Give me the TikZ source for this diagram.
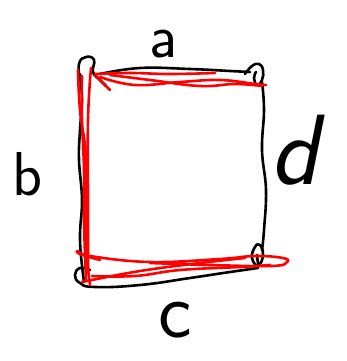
\documentclass[tikz,border=0pt]{standalone}
\begin{document}
\begin{tikzpicture}[x=1pt,y=-1pt,
  ink/.style={black,line width=2.6pt,line cap=round,line join=round},
  redink/.style={red,line width=2.6pt,line cap=round,line join=round},
  hand/.style={font=\sffamily\fontsize{62}{62}\selectfont,inner sep=0pt}]
\useasboundingbox (0,0) rectangle (346,361);
% ---- black square ----
\draw[ink] plot[smooth,tension=0.7] coordinates {(100,74) (140,68) (190,69) (230,71) (250,72)};
\draw[ink] plot[smooth,tension=0.8] coordinates {(80,82) (79,64) (86,57) (94,60) (93,72) (100,80) (106,86)};
\draw[ink] plot[smooth,tension=0.8] coordinates {(245,74) (252,66) (259,64) (263,70) (262,80) (257,85) (254,78) (256,72)};
\draw[ink] plot[smooth,tension=0.7] coordinates {(262,82) (264,110) (262,150) (266,190) (264,230) (262,250)};
\draw[ink] plot[smooth,tension=0.7] coordinates {(80,74) (82,100) (80,130) (79,160) (82,200) (80,240) (84,282)};
\draw[ink] plot[smooth,tension=0.8] coordinates {(90,270) (80,268) (75,275) (80,283) (95,287) (140,285) (190,278) (230,272) (258,268)};
\draw[ink] plot[smooth,tension=0.8] coordinates {(258,268) (252,258) (255,247) (260,245) (263,255) (259,265) (257,255)};
% ---- red strokes ----
\draw[redink] plot[smooth,tension=0.7] coordinates {(82,76) (82,120) (84,170) (84,220) (86,280)};
\draw[redink] plot[smooth,tension=0.7] coordinates {(78,70) (80,110) (86,160) (86,240) (90,285)};
\draw[redink] plot[smooth,tension=0.7] coordinates {(91,68) (88,120) (88,200) (88,272)};
\draw[redink] plot[smooth,tension=0.7] coordinates {(95,74) (130,73) (170,74) (215,73)};
\draw[redink] plot[smooth,tension=0.7] coordinates {(100,77) (135,85) (180,82) (220,80) (255,84) (266,85)};
\draw[redink] plot[smooth,tension=0.7] coordinates {(110,75) (150,80) (200,86) (235,84) (262,86)};
\draw[redink] plot[smooth,tension=0.7] coordinates {(95,75) (103,83) (110,90)};
\draw[redink] plot[smooth,tension=0.7] coordinates {(100,260) (80,254) (78,251) (90,256) (150,262) (220,259) (255,256) (283,258) (287,262) (272,266) (210,265) (150,263)};
\draw[redink] plot[smooth,tension=0.7] coordinates {(82,282) (140,271) (200,263) (245,258)};
\draw[redink] plot[smooth,tension=0.7] coordinates {(92,276) (135,276) (180,270) (240,267) (270,265)};
% ---- labels ----
\node[hand] (la) at (163,44) {a};
\node[hand] (lb) at (28,174) {b};
\node[hand,font=\sffamily\fontsize{100}{100}\selectfont,xslant=0.2] (ld) at (302,150) {d};
\node[hand,font=\sffamily\fontsize{80}{80}\selectfont] (lc) at (175,320) {c};
\end{tikzpicture}
\end{document}
